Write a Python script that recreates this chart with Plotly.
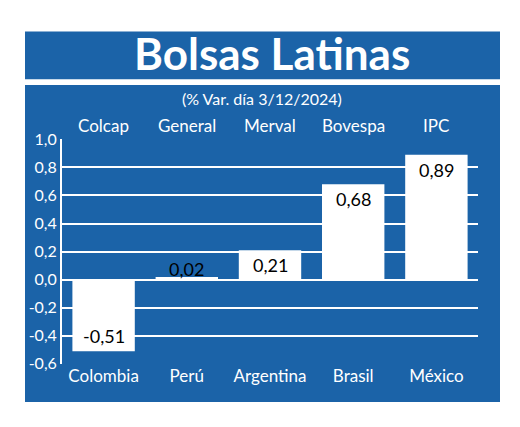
import plotly.graph_objects as go

countries = ["Colombia", "Perú", "Argentina", "Brasil", "México"]
indices = ["Colcap", "General", "Merval", "Bovespa", "IPC"]
values = [-0.51, 0.02, 0.21, 0.68, 0.89]
labels = ["-0,51", "0,02", "0,21", "0,68", "0,89"]
yticks = [-0.6, -0.4, -0.2, 0.0, 0.2, 0.4, 0.6, 0.8, 1.0]
yticklabels = ["-0,6", "-0,4", "-0,2", "0,0", "0,2", "0,4", "0,6", "0,8", "1,0"]

BLUE = "#1b63a8"
W, H = 520, 427
FONT = "Lato"
OX, OY = 8, 8  # page offset

def px(x):
    return (x - OX) / W

def py(y):
    return 1 - (y - OY) / H

fig = go.Figure(go.Bar(x=countries, y=values, width=0.75,
                       marker=dict(color="white", line=dict(width=0))))

shapes = [
    dict(type="rect", xref="paper", yref="paper", x0=px(25), x1=px(500),
         y0=py(72), y1=py(22), fillcolor=BLUE, line=dict(width=0), layer="below"),
    dict(type="rect", xref="paper", yref="paper", x0=px(25), x1=px(500),
         y0=py(410), y1=py(78), fillcolor=BLUE, line=dict(width=0), layer="below"),
]
ann = [
    dict(text="<b>Bolsas Latinas</b>", xref="paper", yref="paper", x=px(272), y=py(45),
         showarrow=False, font=dict(family=FONT, size=44, color="white"), yanchor="middle"),
    dict(text="(% Var. día 3/12/2024)", xref="paper", yref="paper", x=px(262), y=py(92),
         showarrow=False, font=dict(family=FONT, size=16, color="white"), yanchor="middle"),
]
for c, idx in zip(countries, indices):
    ann.append(dict(text=idx, xref="x", yref="paper", x=c, y=py(120), showarrow=False,
                    font=dict(family=FONT, size=17, color="white"), yanchor="middle"))
for c, v, l in zip(countries, values, labels):
    if v < 0:
        ya, ys = "bottom", 2
    elif v < 0.1:
        ya, ys = "middle", 8
    else:
        ya, ys = "top", -2
    ann.append(dict(text=l, x=c, y=v, xref="x", yref="y", showarrow=False, yanchor=ya,
                    yshift=ys, font=dict(family=FONT, size=18, color="black")))

fig.update_layout(
    width=W, height=H, margin=dict(l=0, r=0, t=0, b=0),
    paper_bgcolor="white", plot_bgcolor=BLUE, showlegend=False,
    shapes=shapes, annotations=ann, bargap=0.25,
    xaxis=dict(domain=[px(62), px(478)], showgrid=False, zeroline=False, ticks="",
               tickfont=dict(family=FONT, size=17, color="white"), ticklabelstandoff=0),
    yaxis=dict(domain=[py(370), py(135)], range=[-0.6, 1.0], tickvals=yticks,
               ticktext=yticklabels, showgrid=True, gridcolor="white", gridwidth=1.5,
               zeroline=False, showline=True, linecolor="white", linewidth=2,
               tickfont=dict(family=FONT, size=16, color="white")),
)
fig.write_html("out.html")
